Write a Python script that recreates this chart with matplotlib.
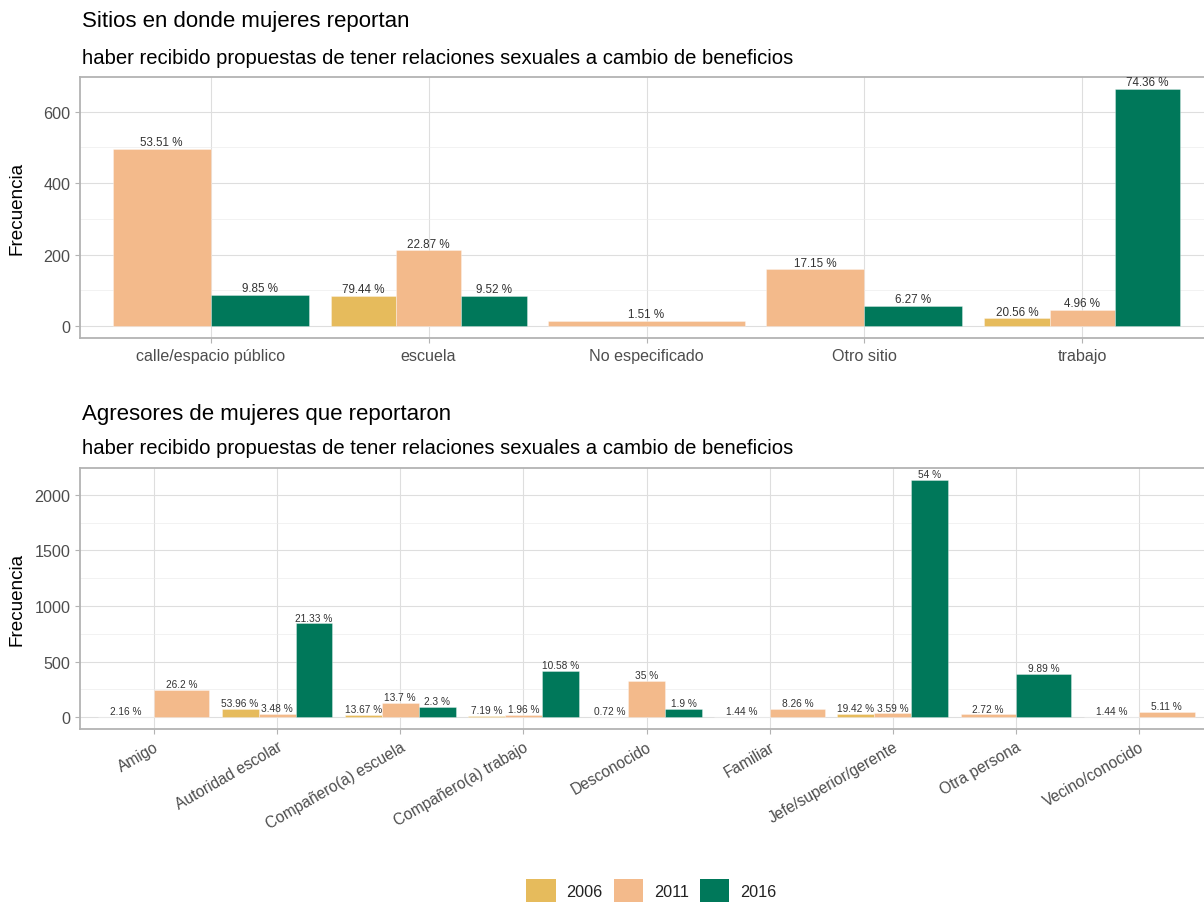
import matplotlib
matplotlib.use("Agg")
import matplotlib.pyplot as plt
from matplotlib.patches import Patch

plt.rcParams['font.family'] = ['Liberation Sans', 'DejaVu Sans']

years = ["2006", "2011", "2016"]
colors = ["#E6BB5C", "#F3BA8B", "#00785A"]

sitios = ["calle/espacio público", "escuela", "No especificado", "Otro sitio", "trabajo"]
sitios_n_2006 = [None, 85, None, None, 22]
sitios_n_2011 = [496, 212, 14, 159, 46]
sitios_n_2016 = [88, 85, None, 56, 664]
sitios_pct_2006 = [None, 79.44, None, None, 20.56]
sitios_pct_2011 = [53.51, 22.87, 1.51, 17.15, 4.96]
sitios_pct_2016 = [9.85, 9.52, None, 6.27, 74.36]

agresores = ["Amigo", "Autoridad escolar", "Compañero(a) escuela", "Compañero(a) trabajo",
             "Desconocido", "Familiar", "Jefe/superior/gerente", "Otra persona", "Vecino/conocido"]
agr_n_2006 = [3, 75, 19, 10, 1, 2, 27, None, 2]
agr_n_2011 = [243, 32, 127, 18, 324, 77, 33, 25, 47]
agr_n_2016 = [None, 843, 91, 418, 75, None, 2135, 391, None]
agr_pct_2006 = [2.16, 53.96, 13.67, 7.19, 0.72, 1.44, 19.42, None, 1.44]
agr_pct_2011 = [26.2, 3.48, 13.7, 1.96, 35, 8.26, 3.59, 2.72, 5.11]
agr_pct_2016 = [None, 21.33, 2.3, 10.58, 1.9, None, 54, 9.89, None]

W, H = 1204, 903
fig = plt.figure(figsize=(W / 100, H / 100), dpi=100)


def px_axes(left, top, right, bottom):
    return fig.add_axes([left / W, 1 - bottom / H, (right - left) / W, (bottom - top) / H])


def draw(ax, cats, n_lists, pct_lists, label_fs, major, minor):
    ymax = 0
    for i in range(len(cats)):
        present = [k for k in range(3) if n_lists[k][i] is not None]
        w = 0.9 / len(present)
        for j, k in enumerate(present):
            x = i - 0.45 + (j + 0.5) * w
            v = n_lists[k][i]
            ymax = max(ymax, v)
            ax.bar(x, v, width=w, color=colors[k], edgecolor=(1, 1, 1, 0.45),
                   linewidth=0.5, zorder=3)
            ax.annotate(f"{pct_lists[k][i]:g} %", (x, v), xytext=(0, 0.5),
                        textcoords="offset points", ha="center", va="bottom",
                        fontsize=label_fs, color="#333333", zorder=4)
    ax.set_xlim(-0.6, len(cats) - 0.4)
    ax.set_ylim(-0.05 * ymax, 1.05 * ymax)
    ax.set_xticks(range(len(cats)))
    ax.set_yticks(major)
    ax.set_yticks(minor, minor=True)
    ax.grid(True, which="major", color="#DEDEDE", linewidth=0.8, zorder=0)
    ax.grid(True, which="minor", axis="y", color="#EBEBEB", linewidth=0.45, zorder=0)
    ax.set_axisbelow(True)
    for s in ax.spines.values():
        s.set_color("#B3B3B3")
        s.set_linewidth(1.3)
    ax.tick_params(which="major", color="#B3B3B3", length=3.5, width=0.8,
                   labelcolor="#4D4D4D", labelsize=11.6)
    ax.tick_params(which="minor", length=0)
    ax.set_ylabel("Frecuencia", fontsize=13.6, color="black")
    ax.yaxis.set_label_coords(-54 / 1133, 0.5)


ax1 = px_axes(80, 78, 1213, 339)
draw(ax1, sitios, [sitios_n_2006, sitios_n_2011, sitios_n_2016],
     [sitios_pct_2006, sitios_pct_2011, sitios_pct_2016], 8.4,
     [0, 200, 400, 600], [100, 300, 500])
ax1.set_xticklabels(sitios)

ax2 = px_axes(80, 469, 1213, 730)
draw(ax2, agresores, [agr_n_2006, agr_n_2011, agr_n_2016],
     [agr_pct_2006, agr_pct_2011, agr_pct_2016], 7.3,
     [0, 500, 1000, 1500, 2000], [250, 750, 1250, 1750])
ax2.set_xticklabels(agresores, rotation=30, ha="right", va="top", rotation_mode="anchor",
                    fontsize=11.2)

fig.text(82 / W, 1 - 22 / H, "Sitios en donde mujeres reportan", fontsize=16, va="center", ha="left")
fig.text(82 / W, 1 - 58 / H,
         "haber recibido propuestas de tener relaciones sexuales a cambio de beneficios",
         fontsize=14.6, va="center", ha="left")
fig.text(82 / W, 1 - 415 / H, "Agresores de mujeres que reportaron", fontsize=16, va="center", ha="left")
fig.text(82 / W, 1 - 449 / H,
         "haber recibido propuestas de tener relaciones sexuales a cambio de beneficios",
         fontsize=14.6, va="center", ha="left")

handles = [Patch(facecolor=c, edgecolor="none", label=y) for c, y in zip(colors, years)]
fig.legend(handles=handles, loc="center", bbox_to_anchor=(651.5 / W, 1 - 891.5 / H), ncol=3,
           frameon=False, fontsize=11.7, handlelength=1.8, handleheight=1.8,
           handletextpad=0.68, columnspacing=0.68, borderpad=0, labelcolor="#222222")

fig.savefig("out.png", dpi=100)
